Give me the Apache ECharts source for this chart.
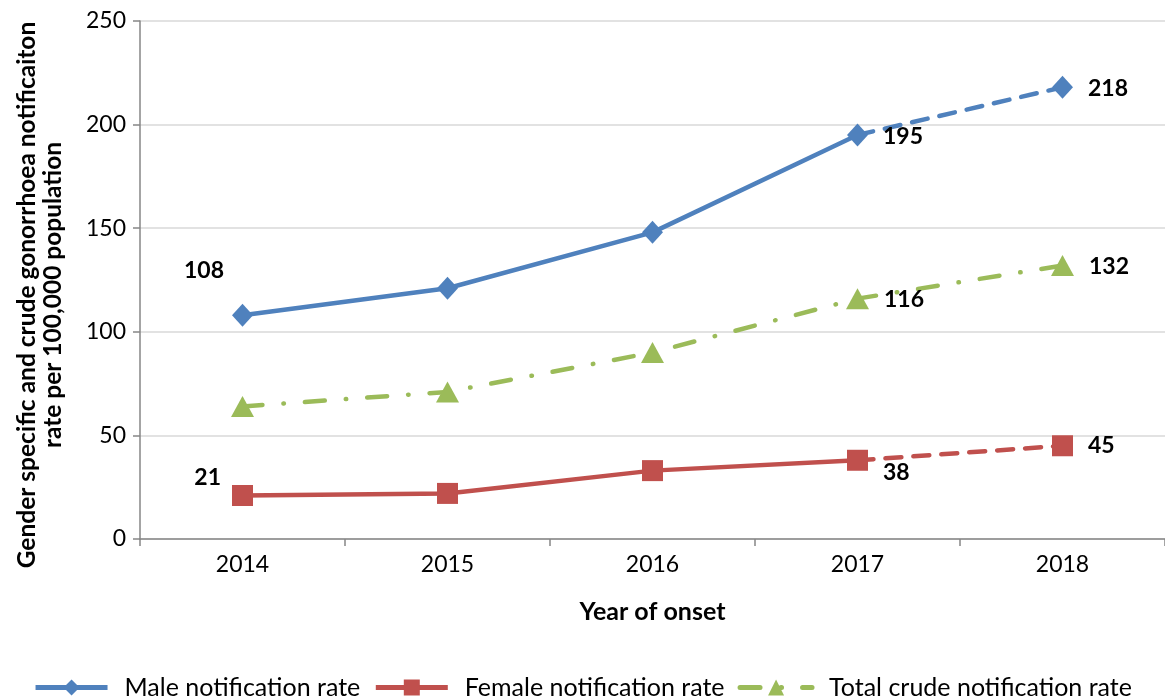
<!DOCTYPE html>
<html>
<head>
<meta charset="utf-8">
<script src="https://cdn.jsdelivr.net/npm/echarts@6/dist/echarts.min.js"></script>
<style>
html,body{margin:0;padding:0;background:#fff;}
#chart{width:1165px;height:698px;}
</style>
</head>
<body>
<div id="chart"></div>
<script>
const years = ['2014', '2015', '2016', '2017', '2018'];
const maleRate = [108, 121, 148, 195, 218];
const femaleRate = [21, 22, 33, 38, 45];
const totalRate = [64, 71, 90, 116, 132];
const yTicks = [0, 50, 100, 150, 200, 250];
const seriesNames = ['Male notification rate', 'Female notification rate', 'Total crude notification rate'];

const FONT = 'Lato';
const C_MALE = '#4F81BD', C_FEMALE = '#C0504D', C_TOTAL = '#9BBB59';

const lbl = (pos, dist, off) => ({show: true, position: pos, distance: dist, offset: off,
  fontFamily: FONT, fontWeight: 'bold', fontSize: 23, color: '#000'});

// solid part (2014-2017) and dashed part (2017-2018)
function solidPart(vals, labels) {
  return vals.map((v, i) => {
    if (i === vals.length - 1) return '-';
    const item = {value: v};
    if (labels[i]) item.label = labels[i];
    return item;
  });
}
function dashedPart(vals, labels) {
  return vals.map((v, i) => {
    if (i < vals.length - 2) return '-';
    const item = {value: v};
    if (i === vals.length - 2) item.symbol = 'none';
    if (labels[i]) item.label = labels[i];
    return item;
  });
}

const maleLabels = {0: lbl('left', 8, [0, -45]), 3: lbl('right', 15, [0, 2])};
const maleLabelsEnd = {4: lbl('right', 15, [0, 1])};
const femaleLabels = {0: lbl('left', 11, [0, -18]), 3: lbl('right', 15, [0, 12])};
const femaleLabelsEnd = {4: lbl('right', 15, [0, 0])};
const totalLabels = {3: lbl('right', 15, [0, 1]), 4: lbl('right', 15, [0, 1])};

const chart = echarts.init(document.getElementById('chart'), null, {renderer: 'canvas'});
chart.setOption({
  animation: false,
  textStyle: {fontFamily: FONT},
  grid: {left: 140, right: 0, top: 21, bottom: 159, containLabel: false, outerBoundsMode: 'none'},
  legend: {
    data: seriesNames,
    top: 670,
    left: 'center',
    itemWidth: 72,
    itemHeight: 20,
    itemGap: 13,
    lineStyle: {width: 5},
    textStyle: {fontFamily: FONT, fontSize: 25, color: '#000', padding: [0, 0, 0, 12]}
  },
  xAxis: {
    type: 'category',
    data: years,
    boundaryGap: true,
    axisLine: {lineStyle: {color: '#868686', width: 1.5}},
    axisTick: {show: true, length: 7, alignWithLabel: false, lineStyle: {color: '#868686', width: 1.5}},
    axisLabel: {fontFamily: FONT, fontSize: 23, color: '#000', margin: 14},
    name: 'Year of onset',
    nameLocation: 'middle',
    nameGap: 60,
    nameTextStyle: {fontFamily: FONT, fontSize: 25, fontWeight: 'bold', color: '#000'}
  },
  yAxis: {
    type: 'value',
    min: yTicks[0],
    max: yTicks[yTicks.length - 1],
    interval: yTicks[1] - yTicks[0],
    axisLine: {show: true, lineStyle: {color: '#868686', width: 1.5}},
    axisTick: {show: true, length: 7, lineStyle: {color: '#868686', width: 1.5}},
    axisLabel: {fontFamily: FONT, fontSize: 23, color: '#000', margin: 14},
    splitLine: {lineStyle: {color: '#D9D9D9', width: 1.5}},
    name: 'Gender specific and crude gonorrhoea notificaiton\nrate per 100,000 population',
    nameLocation: 'middle',
    nameGap: 74,
    nameRotate: 90,
    nameTextStyle: {fontFamily: FONT, fontSize: 24.5, fontWeight: 'bold', color: '#000', lineHeight: 26, align: 'center', padding: [0, 30, 0, 0]}
  },
  series: [
    {
      name: seriesNames[0], type: 'line', data: solidPart(maleRate, maleLabels),
      symbol: 'diamond', symbolSize: [21, 23], z: 4,
      lineStyle: {color: C_MALE, width: 4.5}, itemStyle: {color: C_MALE}
    },
    {
      name: 'Male (dashed)', type: 'line', data: dashedPart(maleRate, maleLabelsEnd),
      symbol: 'diamond', symbolSize: [21, 23], z: 3,
      lineStyle: {color: C_MALE, width: 4.5, type: [16, 12], cap: 'round'}, itemStyle: {color: C_MALE}
    },
    {
      name: seriesNames[1], type: 'line', data: solidPart(femaleRate, femaleLabels),
      symbol: 'rect', symbolSize: 21, z: 4,
      lineStyle: {color: C_FEMALE, width: 4.5}, itemStyle: {color: C_FEMALE}
    },
    {
      name: 'Female (dashed)', type: 'line', data: dashedPart(femaleRate, femaleLabelsEnd),
      symbol: 'rect', symbolSize: 21, z: 3,
      lineStyle: {color: C_FEMALE, width: 4.5, type: [16, 12], cap: 'round'}, itemStyle: {color: C_FEMALE}
    },
    {
      name: seriesNames[2], type: 'line',
      data: totalRate.map((v, i) => totalLabels[i] ? {value: v, label: totalLabels[i]} : v),
      symbol: 'triangle', symbolSize: [23, 21], z: 4,
      lineStyle: {color: C_TOTAL, width: 4.5, type: [20, 21, 0.5, 21], cap: 'round'}, itemStyle: {color: C_TOTAL}
    }
  ]
});
</script>
</body>
</html>
